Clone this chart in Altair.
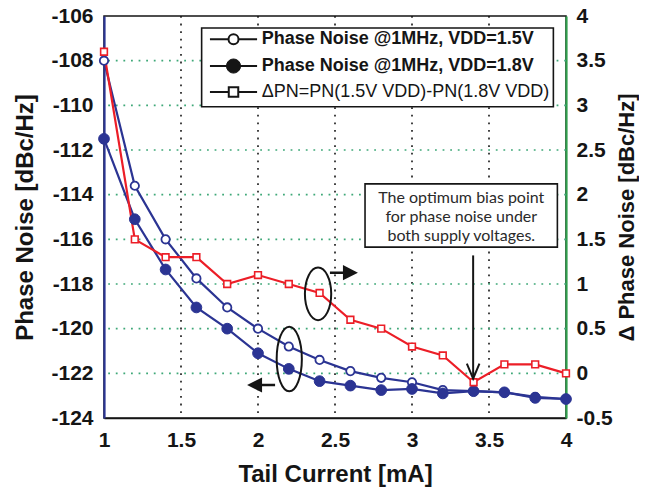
import altair as alt
import pandas as pd

# ---------------- data ----------------
current = [1.0, 1.2, 1.4, 1.6, 1.8, 2.0, 2.2, 2.4, 2.6, 2.8, 3.0, 3.2, 3.4, 3.6, 3.8, 4.0]
pn_vdd15 = [-108.0, -113.6, -116.0, -117.75, -119.05, -120.0, -120.8, -121.4,
            -121.9, -122.2, -122.4, -122.75, -122.8, -122.85, -123.05, -123.15]
pn_vdd18 = [-111.5, -115.1, -117.35, -119.05, -120.0, -121.1, -121.8, -122.35,
            -122.55, -122.75, -122.7, -122.9, -122.8, -122.85, -123.1, -123.15]
delta_pn = [3.6, 1.5, 1.3, 1.3, 1.0, 1.1, 1.0, 0.9, 0.6, 0.5, 0.3, 0.2, -0.1, 0.1, 0.1, 0.0]

x_ticks = [1, 1.5, 2, 2.5, 3, 3.5, 4]
left_ticks = [-124, -122, -120, -118, -116, -114, -112, -110, -108, -106]
right_ticks = [-0.5, 0, 0.5, 1, 1.5, 2, 2.5, 3, 3.5, 4]

legend_labels = ["Phase Noise @1MHz, VDD=1.5V",
                 "Phase Noise @1MHz, VDD=1.8V",
                 "\u0394PN=PN(1.5V VDD)-PN(1.8V VDD)"]
note_lines = ["The optimum bias point", "for phase noise under", "both supply voltages."]

# ---------------- styles ----------------
BLUE = "#2B3493"
RED = "#EC1E27"
GREEN = "#2F9E4C"
GRID_GREEN = "#3FA878"
INK = "#151515"
FONT = "Liberation Sans"

W, H = 462, 402

df = pd.DataFrame({"current": current, "pn15": pn_vdd15, "pn18": pn_vdd18, "dpn": delta_pn})

xscale = alt.Scale(domain=[1, 4], nice=False, zero=False)
lscale = alt.Scale(domain=[-124, -106], nice=False, zero=False)
rscale = alt.Scale(domain=[-0.5, 4], nice=False, zero=False)

hyphen = "(datum.value < 0 ? '-' : '') + format(abs(datum.value), '~g')"

x_axis = alt.Axis(orient="bottom", values=x_ticks, labelExpr=hyphen, title="Tail Current [mA]",
                  grid=False, ticks=False, domainColor=INK, domainWidth=1.5,
                  labelFont=FONT, labelFontSize=21, labelFontWeight="bold", labelColor=INK,
                  labelPadding=11, labelFlush=False, labelOverlap=False,
                  titleFont=FONT, titleFontSize=24, titleFontWeight="bold", titleColor=INK,
                  titlePadding=12)
left_axis = alt.Axis(orient="left", values=left_ticks, labelExpr=hyphen,
                     title="Phase Noise [dBc/Hz]", grid=False, ticks=False,
                     domainColor=BLUE, domainWidth=2.2,
                     labelFont=FONT, labelFontSize=21, labelFontWeight="bold", labelColor=INK,
                     labelPadding=11, labelFlush=False, labelOverlap=False,
                     titleFont=FONT, titleFontSize=24, titleFontWeight="bold", titleColor=INK,
                     titlePadding=13)
right_axis = alt.Axis(orient="right", values=right_ticks, labelExpr=hyphen,
                      title="\u0394 Phase Noise [dBc/Hz]", grid=False, ticks=False,
                      domainColor=GREEN, domainWidth=2.2,
                      labelFont=FONT, labelFontSize=21, labelFontWeight="bold", labelColor=INK,
                      labelPadding=10, labelFlush=False, labelOverlap=False,
                      titleFont=FONT, titleFontSize=22, titleFontWeight="bold", titleColor=INK,
                      titleAngle=270, titleBaseline="top", titlePadding=4)


def X(field):
    return alt.X(f"{field}:Q", scale=xscale, axis=x_axis)


def X2(field):
    return alt.X2(f"{field}:Q")


def YL(field, axis=None):
    return alt.Y(f"{field}:Q", scale=lscale, axis=axis)


def YR(field, axis=None):
    return alt.Y(f"{field}:Q", scale=rscale, axis=axis)


base = alt.Chart(df)

# grid (dotted)
vgrid = alt.Chart(pd.DataFrame({"gx": x_ticks[1:-1]})).mark_rule(
    color=INK, strokeDash=[1.8, 5.8], strokeWidth=1.6).encode(x=X("gx"))
hgrid = alt.Chart(pd.DataFrame({"gy": left_ticks[1:-1]})).mark_rule(
    color=GRID_GREEN, strokeDash=[1.8, 5.8], strokeWidth=1.6).encode(y=YL("gy"))

# data lines
line15 = base.mark_line(color=BLUE, strokeWidth=2.2).encode(x=X("current"), y=YL("pn15", left_axis))
line18 = base.mark_line(color=BLUE, strokeWidth=2.2).encode(x=X("current"), y=YL("pn18"))
lined = base.mark_line(color=RED, strokeWidth=2.2).encode(x=X("current"), y=YR("dpn", right_axis))

# markers
pts15 = base.mark_point(shape="circle", filled=True, fill="white", stroke=BLUE, strokeWidth=1.8,
                        size=70, opacity=1).encode(x=X("current"), y=YL("pn15"))
pts18 = base.mark_point(shape="circle", filled=True, fill=BLUE, stroke=BLUE, strokeWidth=1,
                        size=115, opacity=1).encode(x=X("current"), y=YL("pn18"))
ptsd = base.mark_point(shape="square", filled=True, fill="white", stroke=RED, strokeWidth=1.6,
                       size=45, opacity=1).encode(x=X("current"), y=YR("dpn"))

# ---------------- annotations (placed in data coordinates) ----------------
ell_path_a = ("M0,-1C0.276,-1 0.5,-0.552 0.5,0C0.5,0.552 0.276,1 0,1"
              "C-0.276,1 -0.5,0.552 -0.5,0C-0.5,-0.552 -0.276,-1 0,-1Z")
ell_path_b = ("M0,-1C0.215,-1 0.39,-0.552 0.39,0C0.39,0.552 0.215,1 0,1"
              "C-0.215,1 -0.39,0.552 -0.39,0C-0.39,-0.552 -0.215,-1 0,-1Z")
arrow_right = "M-1,-0.09L-0.07,-0.09L-0.07,-0.54L1,0L-0.07,0.54L-0.07,0.09L-1,0.09Z"
arrow_left = "M1,-0.09L0.07,-0.09L0.07,-0.54L-1,0L0.07,0.54L0.07,0.09L1,0.09Z"
v_head = "M-0.42,-1L0,0L0.42,-1"

ell1 = alt.Chart(pd.DataFrame({"ax": [2.39], "ay": [0.89]})).mark_point(
    shape=ell_path_a, filled=False, stroke=INK, strokeWidth=2, size=2767, opacity=1
).encode(x=X("ax"), y=YR("ay"))
ell2 = alt.Chart(pd.DataFrame({"ax": [2.203], "ay": [0.16]})).mark_point(
    shape=ell_path_b, filled=False, stroke=INK, strokeWidth=2, size=4173, opacity=1
).encode(x=X("ax"), y=YR("ay"))
arr_r = alt.Chart(pd.DataFrame({"ax": [2.558], "ay": [1.127]})).mark_point(
    shape=arrow_right, filled=True, color=INK, size=784, opacity=1
).encode(x=X("ax"), y=YR("ay"))
arr_l = alt.Chart(pd.DataFrame({"ax": [2.02], "ay": [-0.131]})).mark_point(
    shape=arrow_left, filled=True, color=INK, size=784, opacity=1
).encode(x=X("ax"), y=YR("ay"))
v_shaft = alt.Chart(pd.DataFrame({"ax": [3.397], "ay": [1.32], "ay2": [-0.06]})).mark_rule(
    color=INK, strokeWidth=2).encode(x=X("ax"), y=YR("ay"), y2=alt.Y2("ay2:Q"))
v_tip = alt.Chart(pd.DataFrame({"ax": [3.397], "ay": [-0.06]})).mark_point(
    shape=v_head, filled=False, stroke=INK, strokeWidth=2, size=900, opacity=1
).encode(x=X("ax"), y=YR("ay"))

note_box = alt.Chart(pd.DataFrame({"x1": [2.695], "x2": [3.944], "y1": [2.121], "y2": [1.413]})).mark_rect(
    fill="white", stroke=INK, strokeWidth=1.6).encode(x=X("x1"), x2=X2("x2"), y=YR("y1"), y2=alt.Y2("y2:Q"))
note_text = alt.Chart(pd.DataFrame({"t": note_lines, "tx": [3.32] * 3, "ty": [1.96, 1.748, 1.536]})).mark_text(
    font="Lato", fontSize=16, color="#2a2a2a", align="center", baseline="middle"
).encode(x=X("tx"), y=YR("ty"), text="t:N")

# legend
leg_df = pd.DataFrame({"label": legend_labels, "ly": [3.74, 3.44, 3.15],
                       "lx1": [1.688] * 3, "lx2": [1.994] * 3, "mx": [1.841] * 3, "tx": [2.024] * 3})
leg_box = alt.Chart(pd.DataFrame({"x1": [1.634], "x2": [3.918], "y1": [3.866], "y2": [2.984]})).mark_rect(
    fill="white", stroke=INK, strokeWidth=1.6).encode(x=X("x1"), x2=X2("x2"), y=YR("y1"), y2=alt.Y2("y2:Q"))
leg_lines = alt.Chart(leg_df).mark_rule(color=INK, strokeWidth=2).encode(
    x=X("lx1"), x2=X2("lx2"), y=YR("ly"))
leg_m1 = alt.Chart(leg_df.iloc[[0]]).mark_point(shape="circle", filled=True, fill="white", stroke=INK,
                                               strokeWidth=2, size=100, opacity=1).encode(x=X("mx"), y=YR("ly"))
leg_m2 = alt.Chart(leg_df.iloc[[1]]).mark_point(shape="circle", filled=True, fill=INK, stroke=INK,
                                               strokeWidth=1, size=200, opacity=1).encode(x=X("mx"), y=YR("ly"))
leg_m3 = alt.Chart(leg_df.iloc[[2]]).mark_point(shape="square", filled=True, fill="white", stroke=INK,
                                               strokeWidth=2, size=90, opacity=1).encode(x=X("mx"), y=YR("ly"))
leg_t_bold = alt.Chart(leg_df.iloc[[0, 1]]).mark_text(
    font=FONT, fontSize=18, fontWeight="bold", color=INK, align="left", baseline="middle"
).encode(x=X("tx"), y=YR("ly"), text="label:N")
leg_t_norm = alt.Chart(leg_df.iloc[[2]]).mark_text(
    font=FONT, fontSize=18, color=INK, align="left", baseline="middle"
).encode(x=X("tx"), y=YR("ly"), text="label:N")

chart = alt.layer(
    vgrid, hgrid, line15, line18, lined, pts15, pts18, ptsd,
    ell1, ell2, arr_r, arr_l, v_shaft, v_tip, note_box, note_text,
    leg_box, leg_lines, leg_m1, leg_m2, leg_m3, leg_t_bold, leg_t_norm
).resolve_scale(y="independent").properties(
    width=W, height=H,
    autosize=alt.AutoSizeParams(type="none"),
    padding={"left": 96, "top": 8, "right": 73, "bottom": 69},
    background="white"
).configure_view(stroke=INK, strokeWidth=1.5)

chart.save("out.html", embed_options={"renderer": "svg", "actions": False})
